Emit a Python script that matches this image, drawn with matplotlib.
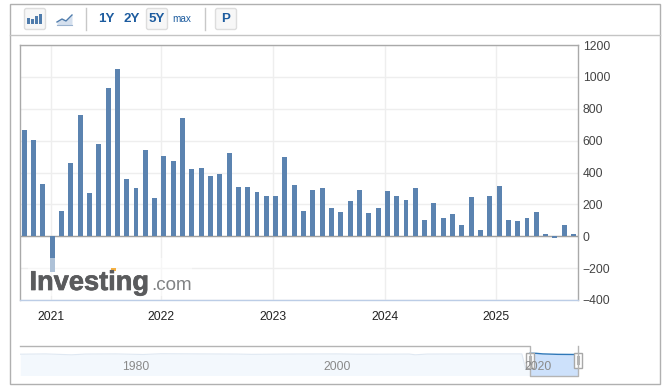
import matplotlib
matplotlib.use("Agg")
import matplotlib.pyplot as plt
import matplotlib.patheffects as pe
from matplotlib.patches import Rectangle, FancyBboxPatch
import numpy as np

plt.rcParams['font.family'] = ['Liberation Sans', 'DejaVu Sans']

W, H = 662, 387

# Monthly values, Oct 2020 to Sep 2025
months = [f"{y}-{m:02d}" for y, m in
          [(2020, 10), (2020, 11), (2020, 12)] +
          [(y, m) for y in range(2021, 2025) for m in range(1, 13)] +
          [(2025, m) for m in range(1, 10)]]
values = [668, 605, 330, -225, 160, 461, 762, 273, 580, 931, 1050, 361,
          305, 543, 242, 505, 474, 743, 424, 430, 380, 392, 524, 311,
          311, 280, 255, 255, 499, 324, 160, 292, 305, 180, 155, 223,
          292, 148, 180, 286, 255, 230, 305, 104, 211, 117, 142, 73,
          248, 42, 255, 317, 104, 98, 117, 155, 17, -13, 73, 17]
year_labels = ['2021', '2022', '2023', '2024', '2025']
year_ticks = [2.82, 14.72, 26.76, 38.80, 50.62]
y_ticks = [-400, -200, 0, 200, 400, 600, 800, 1000, 1200]

# Navigator overview
nav_years = [1968.5, 1971, 1973.6, 1975, 1978, 1980.7, 1982.5, 1986, 1990, 1991.5,
             1995, 2000, 2002, 2004, 2007.2, 2007.8, 2009, 2015, 2018.4, 2018.8, 2019.0, 2019.2]
nav_level = [71, 72, 69, 71.5, 72, 70, 72.5, 72, 71.5, 70.5,
             71.5, 72, 71, 71, 71.5, 69, 71.5, 72, 72, 20, 66, 71]
nav_sel_years = [2019.2, 2019.8, 2020.5, 2022, 2023.94]
nav_sel_level = [74, 74, 72, 70.5, 70]
nav_ticks = [1980, 2000, 2020]

BAR = '#5b83b0'
GRID = '#eeeeee'
FRAME = '#a9a9a9'
LABEL = '#444444'
BLUE = '#1d5c9f'

fig = plt.figure(figsize=(W / 100, H / 100), dpi=100, facecolor='white')

def axbox(l, t, r, b, **kw):
    return fig.add_axes([l / W, 1 - b / H, (r - l) / W, (b - t) / H], **kw)

# Page chrome in pixel coordinates
bg = fig.add_axes([0, 0, 1, 1], zorder=0)
bg.set_xlim(0, W); bg.set_ylim(H, 0); bg.axis('off')
bg.add_patch(Rectangle((9.5, 3.5), 650.5, 380.5, fc='white', ec='#b0b0b0', lw=1))
bg.plot([9.5, 660], [34.5, 34.5], color='#c4c4c4', lw=1)
for px in (85.5, 204.5):
    bg.plot([px, px], [8, 30], color='#c8c8c8', lw=1)
for (px, w) in ((24.5, 21), (146.5, 21), (215.5, 21)):
    bg.add_patch(FancyBboxPatch((px, 8.5), w, 21, boxstyle='round,pad=0,rounding_size=2',
                                fc='#f7f7f7', ec='#dddddd', lw=1))
# Toolbar icons
for px, t in ((27, 18), (31, 19), (35, 16), (39, 14)):
    bg.add_patch(Rectangle((px, t), 3, 24 - t, fc='#4f7cac', ec='none'))
ix = [57, 62, 66, 69, 72]
iy = [22, 19, 21, 18, 15]
bg.fill_between(ix, iy, 25, color='#d5e0ee', lw=0)
bg.plot(ix, iy, color='#4f7cac', lw=1)
bg.plot([57, 72], [25, 25], color='#9bb3cf', lw=0.8)
# Toolbar text
for txt, px, s in (('1Y', 106.5, 9.6), ('2Y', 131.5, 9.6), ('5Y', 157, 9.6),
                   ('max', 182, 7.2), ('P', 225.5, 9.6)):
    bg.text(px, 18.5, txt, color=BLUE, fontsize=s, ha='center', va='center',
            fontweight='bold' if txt != 'max' else 'normal')

# Main chart
ax = axbox(19.5, 44.5, 578, 300, zorder=2)
x = np.arange(len(months))
ax.set_axisbelow(True)
ax.grid(True, color=GRID, lw=1)
ax.bar(x, values, width=0.53, color=BAR, lw=0, zorder=3)
ax.axhline(0, color='#a0a0a0', lw=1, zorder=2.5)
ax.set_xlim(-0.516, 59.48)
ax.set_ylim(-397, 1203.6)
ax.set_xticks(year_ticks, year_labels)
ax.set_yticks(y_ticks)
ax.yaxis.tick_right()
ax.tick_params(axis='both', length=0, labelsize=8.7, labelcolor=LABEL)
ax.tick_params(axis='x', pad=8, labelcolor='#222222')
ax.tick_params(axis='y', pad=3.5)
for side in ('left', 'top', 'right'):
    ax.spines[side].set_color(FRAME)
    ax.spines[side].set_linewidth(1)
ax.spines['bottom'].set_color('#bccde6')
ax.spines['bottom'].set_linewidth(1)

# Watermark
wm = fig.add_axes([0, 0, 1, 1], zorder=3)
wm.set_xlim(0, W); wm.set_ylim(H, 0); wm.axis('off'); wm.patch.set_alpha(0)
wm.add_patch(Rectangle((28, 258), 164, 38, fc='white', ec='none', alpha=0.5))
wm.text(29.5, 290, 'Investing', fontsize=19.6, fontweight='bold', color='#5a5b5d', ha='left', va='baseline',
        path_effects=[pe.withStroke(linewidth=0.5, foreground='#5a5b5d')])
wm.text(151, 290, '.com', fontsize=13.6, color='#808284', ha='left', va='baseline')
wm.add_patch(Rectangle((111, 267.5), 4.5, 3.5, fc='#f5b041', ec='none'))

# Navigator
nav = axbox(20, 345.5, 577.5, 375.5, zorder=2)
nav.set_xlim(1968.47, 2023.94)
nav.set_ylim(0, 100)
nav.axis('off')
nav.fill_between(nav_years, nav_level, 0, color='#f3f8fd', lw=0)
nav.plot(nav_years, nav_level, color='#dfe8f2', lw=0.8)
nav.fill_between(nav_sel_years, nav_sel_level, 0, color='#cde1fb', lw=0, zorder=1)
nav.plot(nav_sel_years, nav_sel_level, color='#2f78b8', lw=1, zorder=2)

over = fig.add_axes([0, 0, 1, 1], zorder=4)
over.set_xlim(0, W); over.set_ylim(H, 0); over.axis('off'); over.patch.set_alpha(0)
over.plot([20, 530, 530, 577.5, 577.5], [345.5, 345.5, 375.5, 375.5, 345.5], color='#b4b4b4', lw=1)
for hx in (529.5, 577.5):
    over.add_patch(Rectangle((hx - 4, 352.5), 8, 15, fc='white', ec='#a8a8a8', lw=1))
    for dx in (-1, 1):
        over.plot([hx + dx, hx + dx], [356, 364], color='#b4b4b4', lw=0.8)

# Navigator labels sit above the handles
nav_top = axbox(20, 345.5, 577.5, 375.5, zorder=5)
nav_top.set_xlim(1968.47, 2023.94)
nav_top.set_ylim(0, 100)
nav_top.axis('off')
for yr in nav_ticks:
    nav_top.text(yr, 30, str(yr), color='#8a8a8a', fontsize=8.7, ha='center', va='center')

fig.savefig('out.png', dpi=100)
